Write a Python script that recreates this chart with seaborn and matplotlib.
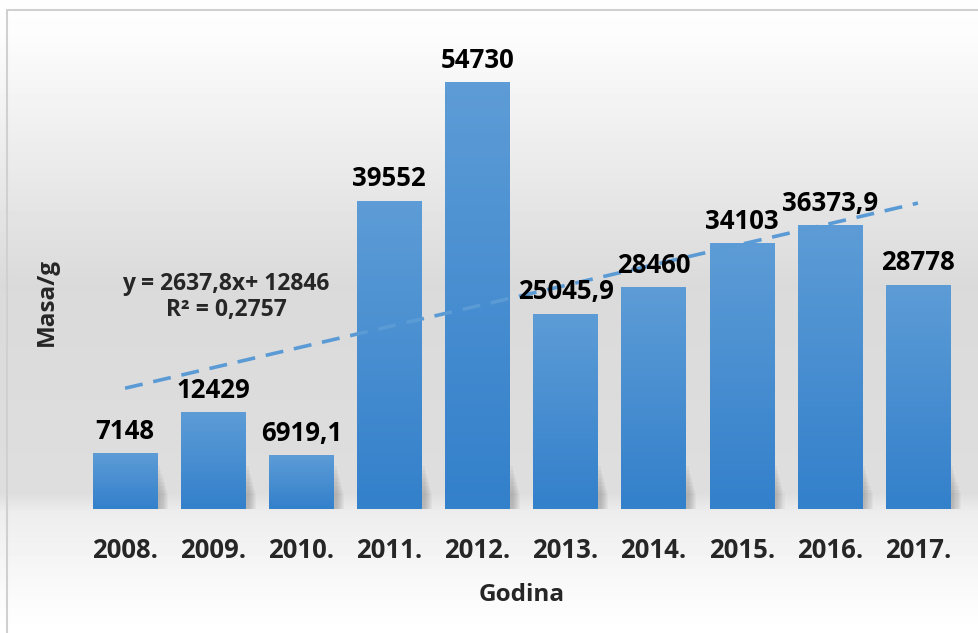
import numpy as np
import pandas as pd
import matplotlib.pyplot as plt
import seaborn as sns
from matplotlib.colors import LinearSegmentedColormap
from matplotlib.patches import Rectangle

# data
years = ['2008.', '2009.', '2010.', '2011.', '2012.', '2013.', '2014.', '2015.', '2016.', '2017.']
mass = [7148, 12429, 6919.1, 39552, 54730, 25045.9, 28460, 34103, 36373.9, 28778]
labels = ['7148', '12429', '6919,1', '39552', '54730', '25045,9', '28460', '34103', '36373,9', '28778']

df = pd.DataFrame({'godina': years, 'masa': mass})

sns.set_theme(style='white')
plt.rcParams['font.family'] = ['Open Sans', 'DejaVu Sans']
plt.rcParams['font.weight'] = 'bold'

fig = plt.figure(figsize=(9.79, 6.33), dpi=100)

# chart area background: white at the top, grey in the middle, white at the bottom
bg = fig.add_axes([0, 0, 1, 1], zorder=-10)
yy = np.linspace(0, 1, 633)  # 0 = top
stops_y = [0.0, 0.05, 0.45, 0.78, 0.81, 0.95, 1.0]
stops_v = [0.995, 0.99, 0.855, 0.87, 0.93, 0.985, 1.0]
col = np.interp(yy, stops_y, stops_v)
bg.imshow(np.repeat(col[:, None], 10, axis=1), cmap='gray', vmin=0, vmax=1,
          aspect='auto', extent=[0, 1, 0, 1], origin='upper')
bg.add_patch(Rectangle((7 / 979, -0.1), 1.2, 1 - 10 / 633 + 0.1, fill=False,
                       edgecolor='#d0d0d0', linewidth=1.5, transform=bg.transAxes))
bg.set_xlim(0, 1)
bg.set_ylim(0, 1)
bg.axis('off')

ax = fig.add_axes([81 / 979, 124 / 633, 881 / 979, 0.7393])
ax.patch.set_alpha(0)
sns.barplot(data=df, x='godina', y='masa', color='#5b9bd5', width=0.73,
            saturation=1, linewidth=0, ax=ax, zorder=2)
ax.set_ylim(0, 60000)
ax.set_xlim(-0.5, 9.5)

# gradient fill and soft shadow on each bar
bar_cmap = LinearSegmentedColormap.from_list('bar', ['#3380cb', '#5d9cd6'])
grad = np.linspace(0, 1, 100)[:, None]
for p in list(ax.patches):
    x0, w, h = p.get_x(), p.get_width(), p.get_height()
    for k in range(8):
        ax.add_patch(Rectangle((x0 + w * 0.05 + k * 0.012, 0), w, min(h, 5500) - k * 500,
                               facecolor='#707070', alpha=0.06, edgecolor='none', zorder=1))
    im = ax.imshow(grad, cmap=bar_cmap, aspect='auto', origin='lower',
                   extent=[x0, x0 + w, 0, h], zorder=3)
    im.set_clip_path(p)
ax.set_xlim(-0.5, 9.5)
ax.set_ylim(0, 60000)

for i, (v, t) in enumerate(zip(mass, labels)):
    ax.annotate(t, (i, v), xytext=(0, 6), textcoords='offset points',
                ha='center', va='bottom', fontsize=18.5, fontweight='bold', color='black', zorder=5)

# linear trend line
xs = np.arange(1, len(mass) + 1)
slope, intercept = np.polyfit(xs, mass, 1)
ax.plot(xs - 1, slope * xs + intercept, color='#5b9bd5', linewidth=2.6,
        dashes=(5, 3), zorder=4)
r2 = np.corrcoef(xs, mass)[0, 1] ** 2
eq = 'y = {}x+ {}\nR² = {}'.format(f'{slope:.1f}'.replace('.', ','), f'{intercept:.0f}',
                                    f'{r2:.4f}'.replace('.', ','))
ax.text(1.146, 27200, eq, ha='center', va='center', fontsize=16.5, fontweight='bold',
        linespacing=1.1, zorder=5)

sns.despine(ax=ax, left=True, bottom=True)
ax.set_yticks([])
ax.tick_params(axis='x', length=0, pad=20, labelsize=18.5)
for lab in ax.get_xticklabels():
    lab.set_fontweight('bold')
ax.set_xlabel('Godina', fontsize=17.5, fontweight='bold', labelpad=14)
ax.set_ylabel('Masa/g', fontsize=17.5, fontweight='bold')
ax.yaxis.set_label_coords(-22 / 881, 0.442)

fig.savefig('out.png', dpi=100)
